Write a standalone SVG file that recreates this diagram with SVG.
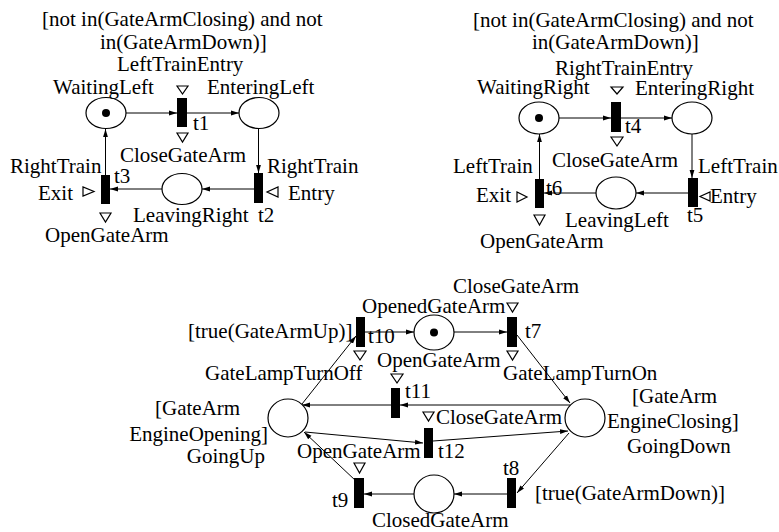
<svg xmlns="http://www.w3.org/2000/svg" width="779" height="532" viewBox="0 0 779 532">
<style>
text{font-family:"Liberation Serif","Times New Roman",serif;font-size:21px;fill:#000}
.pl{fill:#fff;stroke:#000;stroke-width:1.2}
.tr{fill:#000}
.tok{fill:#000}
.ev{fill:#fff;stroke:#000;stroke-width:1.2}
.arc{fill:none;stroke:#000;stroke-width:1;marker-end:url(#ah)}
.e{text-anchor:end}
</style>
<defs>
<marker id="ah" viewBox="0 0 8 6" refX="8" refY="3" markerWidth="8" markerHeight="6" orient="auto" markerUnits="userSpaceOnUse">
<path d="M0,0.6 L8,3 L0,5.4 z" fill="#000"/>
</marker>
</defs>
<rect width="779" height="532" fill="#fff"/>

<g id="connectors">
<path class="arc" d="M126,113 H177"/>
<path class="arc" d="M187,113 H239"/>
<path class="arc" d="M258.5,129 V173"/>
<path class="arc" d="M254,189 H202"/>
<path class="arc" d="M162,189 H110"/>
<path class="arc" d="M105.5,175 V129"/>

<path class="arc" d="M559,118 H611"/>
<path class="arc" d="M621,118 H672"/>
<path class="arc" d="M692,134 V178"/>
<path class="arc" d="M688,193 H636"/>
<path class="arc" d="M596,193 H544"/>
<path class="arc" d="M539.5,179 V134"/>

<path class="arc" d="M365,332 H414"/>
<path class="arc" d="M454,332 H507"/>
<path class="arc" d="M517,335 L570,403"/>
<path class="arc" d="M570,405 H400"/>
<path class="arc" d="M391,405 H302"/>
<path class="arc" d="M305,432 L423,443"/>
<path class="arc" d="M433,441 L568,431"/>
<path class="arc" d="M569,433 L517,493"/>
<path class="arc" d="M507,494 H454"/>
<path class="arc" d="M414,494 H364"/>
<path class="arc" d="M356,481 L304,432"/>
<path class="arc" d="M302,404 L356,336"/>
</g>

<g id="guard-left">
<text x="42" y="26">[not in(GateArmClosing) and not</text>
<text x="100" y="49">in(GateArmDown)]</text>
</g>
<g id="WaitingLeft">
<ellipse class="pl" cx="106" cy="113" rx="20" ry="15.5"/>
<circle class="tok" cx="106" cy="113" r="4"/>
<text x="53" y="94">WaitingLeft</text>
</g>
<g id="t1">
<rect class="tr" x="177" y="98" width="10" height="29"/>
<text x="117" y="71">LeftTrainEntry</text>
<polygon class="ev" points="177,86 188,86 182.5,94"/>
<polygon class="ev" points="177,133 188,133 182.5,142"/>
<text x="193" y="130">t1</text>
<text x="120" y="162">CloseGateArm</text>
</g>
<g id="EnteringLeft">
<ellipse class="pl" cx="259" cy="113" rx="20" ry="15.5"/>
<text x="207" y="94">EnteringLeft</text>
</g>
<g id="t2">
<rect class="tr" x="254" y="173" width="9" height="30"/>
<text x="267" y="173">RightTrain</text>
<polygon class="ev" points="278,187 278,197 267,192"/>
<text x="288" y="200">Entry</text>
<text x="258" y="222">t2</text>
</g>
<g id="LeavingRight">
<ellipse class="pl" cx="182" cy="189" rx="20" ry="15.5"/>
<text x="133" y="222">LeavingRight</text>
</g>
<g id="t3">
<rect class="tr" x="101" y="175" width="9" height="29"/>
<text x="10" y="173">RightTrain</text>
<text x="38" y="200">Exit</text>
<polygon class="ev" points="83,187 83,196 94,191.5"/>
<text x="114" y="183">t3</text>
<polygon class="ev" points="100,213 111,213 105.5,222"/>
<text x="45" y="242">OpenGateArm</text>
</g>

<g id="guard-right">
<text x="473" y="27">[not in(GateArmClosing) and not</text>
<text x="532" y="49">in(GateArmDown)]</text>
</g>
<g id="WaitingRight">
<ellipse class="pl" cx="539" cy="118" rx="20" ry="16"/>
<circle class="tok" cx="539" cy="118" r="4"/>
<text x="477" y="94">WaitingRight</text>
</g>
<g id="t4">
<rect class="tr" x="611" y="102" width="10" height="30"/>
<text x="555" y="75">RightTrainEntry</text>
<polygon class="ev" points="611,87 623,87 617,94"/>
<polygon class="ev" points="611,137 623,137 617,146"/>
<text x="625" y="133">t4</text>
<text x="552" y="167">CloseGateArm</text>
</g>
<g id="EnteringRight">
<ellipse class="pl" cx="692" cy="118" rx="20" ry="16"/>
<text x="635" y="95">EnteringRight</text>
</g>
<g id="t5">
<rect class="tr" x="688" y="178" width="10" height="29"/>
<text x="698" y="173">LeftTrain</text>
<polygon class="ev" points="710,192 710,201 700,196.5"/>
<text x="710" y="203">Entry</text>
<text x="687" y="222">t5</text>
</g>
<g id="LeavingLeft">
<ellipse class="pl" cx="616" cy="193" rx="20" ry="16"/>
<text x="565" y="227">LeavingLeft</text>
</g>
<g id="t6">
<rect class="tr" x="535" y="179" width="9" height="29"/>
<text x="453" y="173">LeftTrain</text>
<text x="476" y="202">Exit</text>
<polygon class="ev" points="517,192 517,202 527,197"/>
<text x="546" y="195">t6</text>
<polygon class="ev" points="534,215 545,215 539.5,225"/>
<text x="480" y="248">OpenGateArm</text>
</g>

<g id="OpenedGateArm">
<ellipse class="pl" cx="434" cy="332.5" rx="20" ry="17.5"/>
<circle class="tok" cx="434" cy="332.5" r="4"/>
<text x="362" y="313">OpenedGateArm</text>
</g>
<g id="t10">
<rect class="tr" x="356" y="317" width="9" height="30"/>
<text x="188" y="338">[true(GateArmUp)]</text>
<text x="368" y="343">t10</text>
<polygon class="ev" points="354,351 366,351 360,360"/>
<text x="205" y="380">GateLampTurnOff</text>
</g>
<g id="t7">
<rect class="tr" x="507" y="317" width="10" height="30"/>
<text x="453" y="293">CloseGateArm</text>
<polygon class="ev" points="507,303 518,303 512.5,312"/>
<text x="525" y="338">t7</text>
<polygon class="ev" points="507,351 518,351 512.5,360"/>
<text x="503" y="380">GateLampTurnOn</text>
</g>
<g id="t11">
<rect class="tr" x="391" y="388" width="9" height="30"/>
<text x="377" y="367">OpenGateArm</text>
<polygon class="ev" points="391,374 403,374 397,383"/>
<text x="405" y="398">t11</text>
</g>
<g id="GoingUp">
<ellipse class="pl" cx="288" cy="418" rx="20" ry="19"/>
<text x="155" y="415">[GateArm</text>
<text class="e" x="268" y="441">EngineOpening]</text>
<text class="e" x="265" y="463">GoingUp</text>
</g>
<g id="GoingDown">
<ellipse class="pl" cx="585" cy="418" rx="20" ry="19"/>
<text x="632" y="403">[GateArm</text>
<text x="607" y="428">EngineClosing]</text>
<text x="627" y="453">GoingDown</text>
</g>
<g id="t12">
<rect class="tr" x="424" y="428" width="9" height="30"/>
<polygon class="ev" points="423,412 434,412 428.5,421"/>
<text x="436" y="424">CloseGateArm</text>
<text x="438" y="458">t12</text>
<text x="297" y="458">OpenGateArm</text>
</g>
<g id="t9">
<rect class="tr" x="354" y="478" width="10" height="30"/>
<polygon class="ev" points="354,463 365,463 359.5,473"/>
<text x="332" y="507">t9</text>
</g>
<g id="ClosedGateArm">
<ellipse class="pl" cx="434" cy="494" rx="20" ry="19"/>
<text x="372" y="527">ClosedGateArm</text>
</g>
<g id="t8">
<rect class="tr" x="507" y="478" width="9" height="30"/>
<text x="503" y="475">t8</text>
<text x="535" y="500">[true(GateArmDown)]</text>
</g>
</svg>
